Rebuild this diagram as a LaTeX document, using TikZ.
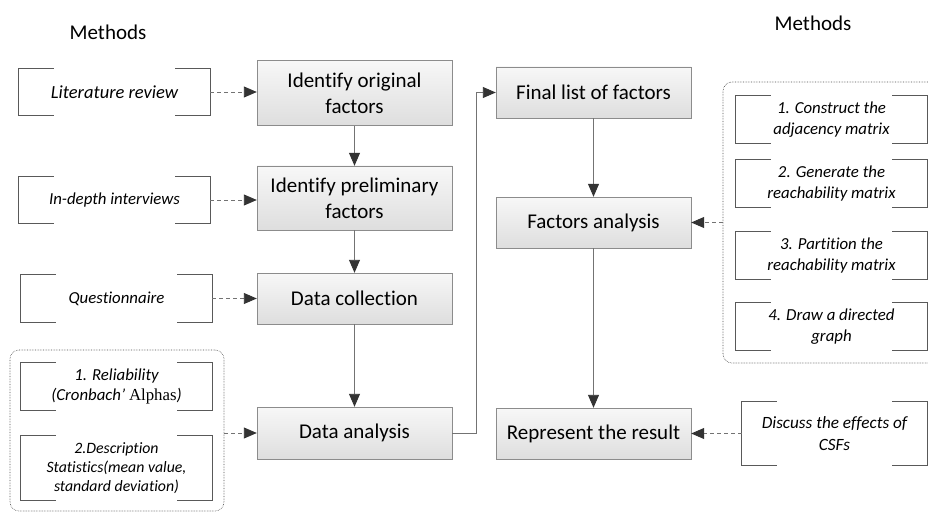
\documentclass[tikz,border=0pt]{standalone}
\usepackage{fontspec}
\setmainfont{Carlito}[Ligatures=NoCommon]
\newfontfamily\serifpart{Liberation Serif}
\usetikzlibrary{arrows.meta,calc}

\begin{document}
\begin{tikzpicture}[x=1pt,y=-1pt,
	stepbox/.style={draw=black!45,top color=black!3,bottom color=black!13,minimum width=195pt,align=center,inner sep=0pt,font=\fontsize{21}{26}\selectfont},
	methodbox/.style={minimum width=191pt,minimum height=47pt,align=center,inner sep=0pt,font=\fontsize{16.8}{21.5}\selectfont\itshape},
	groupbox/.style={draw=black!70,line width=.6pt,densely dotted,rounded corners=9pt,inner sep=0pt},
	bracket/.style={draw=black!65,line width=.8pt},
	flow/.style={draw=black!55,line width=.9pt,-{Triangle[length=13pt,width=11pt,color=black!80]}},
	link/.style={flow,dash pattern=on 4pt off 3pt}]
	\useasboundingbox (0,0) rectangle (928,513);
	\def\gap{35pt}
	\node[font=\fontsize{21}{26}\selectfont] (mleft) at (108,32) {Methods};
	\node[font=\fontsize{21}{26}\selectfont] (mright) at (813,23) {Methods};
	\node[groupbox,minimum width=214pt,minimum height=161pt] (lgroup) at (117,430.5) {};
	\node[groupbox,minimum width=217pt,minimum height=281pt] (rgroup) at (831.5,222.5) {};
	\node[stepbox,minimum height=65pt] (orig) at (354.5,93) {Identify original\\factors};
	\node[stepbox,minimum height=64pt] (prelim) at (354.5,198) {Identify preliminary\\factors};
	\node[stepbox,minimum height=51pt] (coll) at (354.5,298.5) {Data collection};
	\node[stepbox,minimum height=52pt] (ana) at (354.5,433) {Data analysis};
	\node[stepbox,minimum height=51pt] (final) at (593.5,92.5) {Final list of factors};
	\node[stepbox,minimum height=51pt] (fana) at (593.5,222.5) {Factors analysis};
	\node[stepbox,minimum height=51pt] (rep) at (593.5,433.5) {Represent the result};
	\node[methodbox,font=\fontsize{18.5}{21}\selectfont\itshape] (lit) at (114.5,92) {Literature review};
	\node[methodbox] (inter) at (114.5,200) {In-depth interviews};
	\node[methodbox,minimum height=48pt] (quest) at (116.5,298.5) {Questionnaire};
	\node[methodbox,font=\fontsize{16.8}{19.5}\selectfont\itshape] (rel) at (116.5,386.5) {1. Reliability\\(Cronbach’ {\upshape\serifpart Alphas})};
	\node[methodbox,minimum height=64pt,font=\fontsize{15.8}{19}\selectfont\itshape] (desc) at (116.5,468) {2.Description\\Statistics(mean value,\\standard deviation)};
	\node[methodbox] (c1) at (831.5,119.5) {1. Construct the\\adjacency matrix};
	\node[methodbox] (c2) at (831.5,183.5) {2. Generate the\\reachability matrix};
	\node[methodbox] (c3) at (831.5,255.5) {3. Partition the\\reachability matrix};
	\node[methodbox] (c4) at (831.5,326.5) {4. Draw a directed\\graph};
	\node[methodbox,minimum width=185pt,minimum height=63pt,font=\fontsize{17.2}{21.5}\selectfont\itshape] (disc) at (834.5,433.5) {Discuss the effects of\\CSFs};
	\foreach \n in {lit,inter,quest,rel,desc,c1,c2,c3,c4,disc}
		\draw[bracket] ([xshift=\gap]\n.north west) -- (\n.north west) -- (\n.south west) -- ([xshift=\gap]\n.south west)
			([xshift=-\gap]\n.north east) -- (\n.north east) -- (\n.south east) -- ([xshift=-\gap]\n.south east);
	\foreach \a/\b in {orig/prelim,prelim/coll,coll/ana,final/fana,fana/rep}
		\draw[flow] (\a) -- (\b);
	\draw[flow] (ana.east) -- ++(24,0) |- (final.west);
	\draw[link] (lit.east) -- (lit.east -| orig.west);
	\draw[link] (inter.east) -- (inter.east -| prelim.west);
	\draw[link] (quest.east) -- (coll.west);
	\draw[link] (lgroup.east |- ana.west) -- (ana.west);
	\draw[link] (rgroup.west |- fana.east) -- (fana.east);
	\draw[link] (disc.west) -- (rep.east);
\end{tikzpicture}
\end{document}
